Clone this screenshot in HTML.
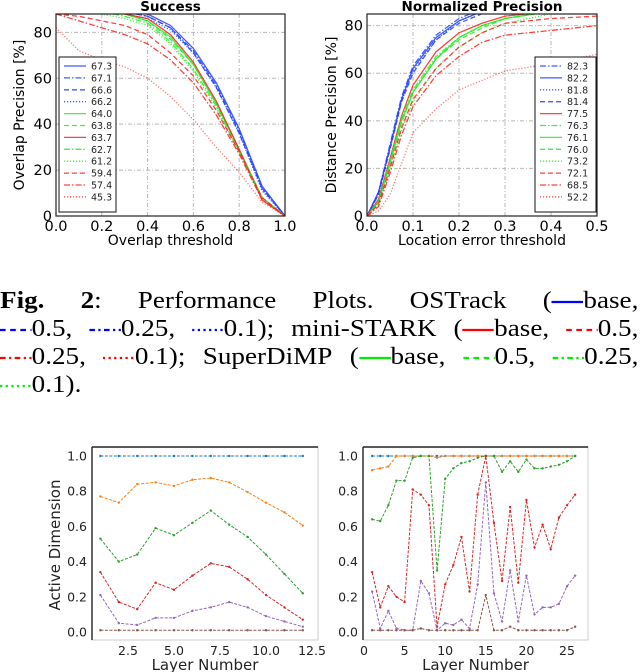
<!DOCTYPE html>
<html><head><meta charset="utf-8">
<style>
html,body{margin:0;padding:0;background:#fff;}
#wrap{position:relative;width:640px;height:672px;overflow:hidden;}
svg text{font-family:"DejaVu Sans","Liberation Sans",sans-serif;}
.cap{position:absolute;left:0px;width:565px;height:28px;display:flex;justify-content:space-between;align-items:center;font-family:"Liberation Serif",serif;font-size:24px;line-height:28px;color:#000;white-space:nowrap;transform:scaleX(1.13);transform-origin:0 50%;}
.cap svg{vertical-align:middle;}
</style></head>
<body>
<div id="wrap">
<svg id="fig" width="640" height="672" viewBox="0 0 640 672" style="position:absolute;left:0;top:0"></svg>

<div class="cap" style="top:287px">
<span><b>Fig.</b></span><span><b>2</b>:</span><span>Performance</span><span>Plots.</span><span>OSTrack</span>
<span>(<svg width="28" height="10"><line x1="0" y1="5" x2="28" y2="5" stroke="#0000ff" stroke-width="2.2"/></svg>base,</span>
</div>
<div class="cap" style="top:315px">
<span><svg width="28" height="10"><line x1="0" y1="5" x2="28" y2="5" stroke="#0000ff" stroke-width="2.2" stroke-dasharray="5,4"/></svg>0.5,</span>
<span><svg width="28" height="10"><line x1="0" y1="5" x2="28" y2="5" stroke="#0000ff" stroke-width="2.2" stroke-dasharray="5,3,2,3"/></svg>0.25,</span>
<span><svg width="28" height="10"><line x1="0" y1="5" x2="28" y2="5" stroke="#0000ff" stroke-width="2.2" stroke-dasharray="2,3"/></svg>0.1);</span>
<span>mini-STARK</span>
<span>(<svg width="28" height="10"><line x1="0" y1="5" x2="28" y2="5" stroke="#ff0000" stroke-width="2.2"/></svg>base,</span>
<span><svg width="28" height="10"><line x1="0" y1="5" x2="28" y2="5" stroke="#ff0000" stroke-width="2.2" stroke-dasharray="5,4"/></svg>0.5,</span>
</div>
<div class="cap" style="top:343px">
<span><svg width="28" height="10"><line x1="0" y1="5" x2="28" y2="5" stroke="#ff0000" stroke-width="2.2" stroke-dasharray="5,3,2,3"/></svg>0.25,</span>
<span><svg width="28" height="10"><line x1="0" y1="5" x2="28" y2="5" stroke="#ff0000" stroke-width="2.2" stroke-dasharray="2,3"/></svg>0.1);</span>
<span>SuperDiMP</span>
<span>(<svg width="28" height="10"><line x1="0" y1="5" x2="28" y2="5" stroke="#00ee00" stroke-width="2.2"/></svg>base,</span>
<span><svg width="28" height="10"><line x1="0" y1="5" x2="28" y2="5" stroke="#00ee00" stroke-width="2.2" stroke-dasharray="5,4"/></svg>0.5,</span>
<span><svg width="28" height="10"><line x1="0" y1="5" x2="28" y2="5" stroke="#00ee00" stroke-width="2.2" stroke-dasharray="5,3,2,3"/></svg>0.25,</span>
</div>
<div class="cap" style="top:371px;justify-content:flex-start">
<span><svg width="28" height="10"><line x1="0" y1="5" x2="28" y2="5" stroke="#00ee00" stroke-width="2.2" stroke-dasharray="2,3"/></svg>0.1).</span>
</div>
</div>

<script>
// ---------- Success plot data ----------
const successThresholds = [0,0.1,0.2,0.3,0.4,0.5,0.6,0.7,0.8,0.9,1.0];
const successScores = ["67.3","67.1","66.6","66.2","64.0","63.8","63.7","62.7","61.2","59.4","57.4","45.3"];
const successCurves = [
 [90,90,90,89,88,83,73,58,38,13,0],
 [90,90,90,89,87,82,72,57,37,12,0],
 [90,90,90,89,87,82,71,56,36,12,0],
 [90,90,90,88,86,81,71,56,36,11,0],
 [90,90,89,88,85,78,66,49,29,8,0],
 [90,90,89,88,85,77,66,49,29,8,0],
 [90,90,89,88,86,79,67,50,29,7,0],
 [90,90,89,87,84,76,64,48,28,8,0],
 [90,89,88,86,83,75,63,47,28,8,0],
 [88,87,85,83,79,71,61,46,28,8,0],
 [88,85,82,79,75,68,58,44,27,7,0],
 [82,72,68,65,60,52,42,30,19,6,0]
];
const successColors = ["b","b","b","b","g","g","r","g","g","r","r","r"];
const successStyles = ["solid","dashdot","dashed","dotted","solid","dashed","solid","dashdot","dotted","dashed","dashdot","dotted"];
// ---------- Normalized precision data ----------
const npThresholds = [0,0.025,0.05,0.075,0.1,0.15,0.2,0.25,0.3,0.4,0.5];
const npScores = ["82.3","82.2","81.8","81.4","77.5","76.3","76.1","76.0","73.2","72.1","68.5","52.2"];
const npCurves = [
 [0,10,30,50,63,76,83,87,89,91,92],
 [0,10,29,49,62,75,82,86,89,91,92],
 [0,9,28,48,61,74,82,86,88,90,91],
 [0,9,28,48,60,74,81,85,88,90,91],
 [0,7,24,42,55,69,77,81,84,86,87],
 [0,6,23,41,53,67,75,80,83,86,87],
 [0,6,22,40,52,66,75,80,83,86,87],
 [0,6,22,39,52,66,74,79,83,86,87],
 [0,5,20,36,48,62,71,77,81,85,86],
 [0,5,20,37,49,62,71,77,81,83,84],
 [0,4,18,34,46,59,67,73,76,78,80],
 [0,2,9,22,35,45,53,57,61,64,68]
];
const npColors = ["b","b","b","b","r","g","g","g","g","r","r","r"];
const npStyles = ["dashdot","solid","dotted","dashed","solid","dashdot","solid","dashed","dotted","dashed","dashdot","dotted"];
// ---------- Active dimension data ----------
const layersA = [1,2,3,4,5,6,7,8,9,10,11,12];
const adA_blue = [1,1,1,1,1,1,1,1,1,1,1,1];
const adA_orange = [.77,.735,.84,.85,.83,.865,.875,.85,.795,.735,.68,.605];
const adA_green = [.53,.40,.44,.59,.55,.62,.69,.61,.54,.44,.33,.22];
const adA_red = [.34,.17,.13,.28,.24,.32,.39,.37,.30,.21,.14,.07];
const adA_purple = [.21,.05,.04,.08,.08,.12,.14,.17,.14,.09,.06,.03];
const adA_brown = [.01,.01,.01,.01,.01,.01,.01,.01,.01,.01,.01,.01];
const layersB = [1,2,3,4,5,6,7,8,9,10,11,12,13,14,15,16,17,18,19,20,21,22,23,24,25,26];
const adB_blue = [1,1,1,1,1,1,1,1,1,1,1,1,1,1,1,1,1,1,1,1,1,1,1,1,1,1];
const adB_orange = [.92,.93,.94,1,1,1,1,1,.99,1,1,1,1,1,1,1,1,1,1,1,1,1,1,1,1,1];
const adB_green = [.64,.63,.72,.86,.86,.99,1,1,.35,.87,.93,.96,.97,.99,1,1,.91,.97,.91,.98,.93,.93,.94,.95,.97,1];
const adB_red = [.34,.14,.26,.20,.17,.81,.78,.72,.03,.27,.38,.54,.23,.78,1,.62,.29,.71,.28,.75,.48,.61,.47,.65,.72,.78];
const adB_purple = [.23,.02,.12,.02,.01,.01,.29,.22,.01,.05,.04,.07,.02,.27,.85,.22,.06,.35,.06,.32,.10,.14,.14,.16,.26,.32];
const adB_brown = [.01,.01,.01,.01,.01,.01,.02,.01,.01,.01,.01,.01,.01,.01,.21,.01,.01,.03,.01,.01,.01,.01,.01,.01,.01,.03];
const yTicksTopA = [0,20,40,60,80];
const xTicksTopA = [0,0.2,0.4,0.6,0.8,1.0];
const xTicksTopB = [0,0.1,0.2,0.3,0.4,0.5];
const yTicksAD = [0,0.2,0.4,0.6,0.8,1.0];
const xTicksADA = [2.5,5,7.5,10,12.5];
const xTicksADB = [0,5,10,15,20,25];

const NS = "http://www.w3.org/2000/svg";
const svg = document.getElementById("fig");
const COL = {b:"#2040ff", g:"#22ee22", r:"#ff2020"};
const DASH = {solid:"", dashed:"5,3", dashdot:"6,2,1.5,2", dotted:"1.2,1.8"};
function mk(tag, attrs, parent){
  const e = document.createElementNS(NS, tag);
  for (const k in attrs) e.setAttribute(k, attrs[k]);
  (parent||svg).appendChild(e);
  return e;
}
function txt(s, x, y, size, anchor, parent, extra){
  const t = mk("text", Object.assign({x:x, y:y, "font-size":size, "text-anchor":anchor||"middle", fill:"#000"}, extra||{}), parent);
  t.textContent = s;
  return t;
}
function scale(d0,d1,r0,r1){ return v => r0 + (v-d0)/(d1-d0)*(r1-r0); }

function topChart(o){
  const g = mk("g", {});
  
  
  const X = scale(o.xmin,o.xmax,o.L,o.R), Y = scale(0,o.ytop,o.B,o.T);
  const clipId = o.name+"-clip";
  const cp = mk("clipPath",{id:clipId},g);
  mk("rect",{x:o.L,y:o.T,width:o.R-o.L,height:o.B-o.T},cp);
  o.xt.forEach(v=>{ const l=mk("line",{x1:X(v),x2:X(v),y1:o.T,y2:o.B,stroke:"#b8b8b8","stroke-width":1,"stroke-dasharray":"4,2,1,2"},g);
      });
  o.yt.forEach(v=>{ const l=mk("line",{x1:o.L,x2:o.R,y1:Y(v),y2:Y(v),stroke:"#b8b8b8","stroke-width":1,"stroke-dasharray":"4,2,1,2"},g);
      });
  const cg = mk("g",{"clip-path":"url(#"+clipId+")"},g);
  o.curves.forEach((c,i)=>{
    const p = mk("polyline",{points:c.map((v,j)=>X(o.xs[j])+","+Y(v)).join(" "),fill:"none",stroke:COL[o.cols[i]],"stroke-width":1.3,"stroke-opacity":i===11?0.6:0.85,"stroke-dasharray":DASH[o.styles[i]]},cg);
    
    
  });
  const fr = mk("rect",{x:o.L,y:o.T,width:o.R-o.L,height:o.B-o.T,fill:"none",stroke:"#222","stroke-width":1.2},g);
  
  
  o.xt.forEach(v=>{ const t=txt(v.toFixed(1),X(v),o.B+15,14.5,"middle",g);   });
  o.yt.forEach(v=>{ const t=txt(String(v),o.L-4,Y(v)+5,14.5,"end",g);   });
  const xl = txt(o.xlabel,(o.L+o.R)/2,o.B+29,14,"middle",g);
  
  
  const yl = txt(o.ylabel,0,0,14,"middle",g,{transform:"translate("+o.ylx+","+((o.T+o.B)/2)+") rotate(-90)"});
  
  
  const ti = txt(o.title,(o.L+o.R)/2,o.T-3,13.5,"middle",g,{"font-weight":"bold"});
  
  
  const lg = mk("g",{},g);
  
  
  mk("rect",{x:o.lx,y:57,width:o.lw,height:155,fill:"#fff",stroke:"#111","stroke-width":1},lg);
  o.scores.forEach((s,i)=>{
    const yy = 66+i*11.9;
    const e = mk("g",{},lg);
    
    
    mk("line",{x1:o.lx+5,x2:o.lx+27,y1:yy,y2:yy,stroke:COL[o.cols[i]],"stroke-width":1.3,"stroke-opacity":0.85,"stroke-dasharray":DASH[o.styles[i]]},e);
    txt(s,o.lx+32,yy+3.5,9.5,"start",e,{fill:"#222"});
  });
}
topChart({name:"success-chart",L:56,R:285,T:14,B:216,xmin:0,xmax:1,ytop:88,xs:successThresholds,curves:successCurves,cols:successColors,styles:successStyles,scores:successScores,xt:xTicksTopA,yt:yTicksTopA,xlabel:"Overlap threshold",ylabel:"Overlap Precision [%]",ylx:24,title:"Success",lx:59,lw:57});
topChart({name:"normalized-precision-chart",L:367,R:597,T:14,B:216,xmin:0,xmax:0.5,ytop:84.9,xs:npThresholds,curves:npCurves,cols:npColors,styles:npStyles,scores:npScores,xt:xTicksTopB,yt:yTicksTopA,xlabel:"Location error threshold",ylabel:"Distance Precision [%]",ylx:336,title:"Normalized  Precision",lx:535,lw:61});

const TAB = ["#1f77b4","#ff7f0e","#2ca02c","#d62728","#9467bd","#8c564b"];
function adChart(o){
  const g = mk("g",{});
  
  
  const X = scale(o.xmin,o.xmax,o.L0,o.R0), Y = scale(0,1,632,456);
  const fr = mk("rect",{x:o.L,y:447,width:o.R-o.L,height:193,fill:"none",stroke:"#ccc","stroke-width":1},g);
  
  
  mk("line",{x1:o.L,x2:o.L,y1:447,y2:640,stroke:"#222","stroke-width":1.4},g);
  mk("line",{x1:o.L,x2:o.R,y1:447,y2:447,stroke:"#222","stroke-width":1.4},g);
  o.series.forEach((s,i)=>{
    const p = mk("polyline",{points:s.map((v,j)=>X(o.xs[j])+","+Y(v)).join(" "),fill:"none",stroke:TAB[i],"stroke-width":1,"stroke-dasharray":"3,1.5"},g);
    
    
    s.forEach((v,j)=>{
      const m = mk("circle",{cx:X(o.xs[j]),cy:Y(v),r:1.2,fill:TAB[i]},g);
      
      
    });
  });
  o.xt.forEach(v=>{ const t=txt(o.dec?v.toFixed(1):String(v),X(v),655,12.5,"middle",g,{fill:"#222"});   });
  o.yt.forEach(v=>{ const t=txt(v.toFixed(1),o.L-5,Y(v)+4.5,12.5,"end",g,{fill:"#222"});   });
  const xl = txt("Layer Number",(o.L+o.R)/2,670,15,"middle",g,{fill:"#222"});
  
  
  if (o.ylabel){
    const yl = txt(o.ylabel,0,0,15,"middle",g,{fill:"#222",transform:"translate(60,545) rotate(-90)"});
    
    
  }
}
const adNames = ["blue","orange","green","red","purple","brown"];
adChart({name:"active-dimension-chart-left",L:92,R:318,L0:128,R0:174,xmin:2.5,xmax:5,xs:layersA,series:[adA_blue,adA_orange,adA_green,adA_red,adA_purple,adA_brown],names:adNames,xt:xTicksADA,yt:yTicksAD,ylabel:"Active Dimension",dec:true});
adChart({name:"active-dimension-chart-right",L:363,R:588,L0:364,R0:567,xmin:0,xmax:25,xs:layersB,series:[adB_blue,adB_orange,adB_green,adB_red,adB_purple,adB_brown],names:adNames,xt:xTicksADB,yt:yTicksAD,ylabel:null,dec:false});
</script>
</body></html>
